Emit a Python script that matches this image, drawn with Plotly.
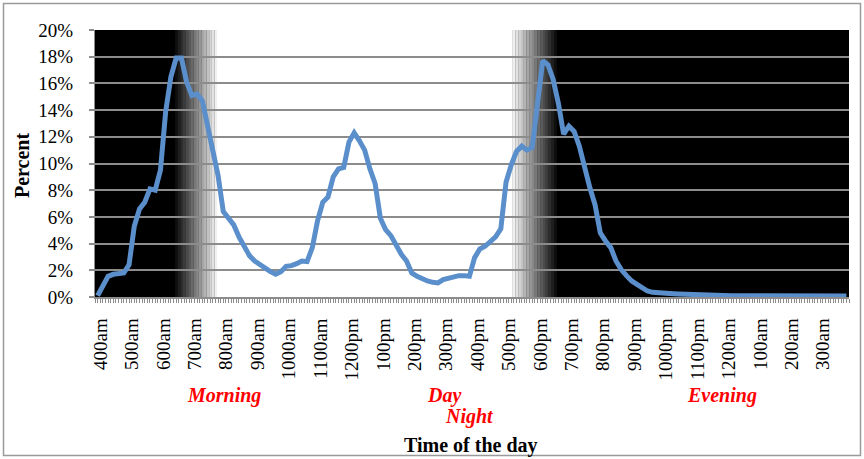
import plotly.graph_objects as go

# Share of activity in each 10-minute slot, starting at 4:00am (percent)
minutes = list(range(0, 1440, 10))
percent = [
    0.1, 0.9, 1.55, 1.7, 1.75, 1.8, 2.4, 5.3, 6.6, 7.1, 8.1, 8.0,
    9.5, 13.9, 16.5, 17.9, 17.9, 16.1, 15.1, 15.2, 14.7, 12.9, 11.0, 9.1,
    6.4, 5.9, 5.4, 4.5, 3.8, 3.1, 2.7, 2.4, 2.2, 1.9, 1.7, 1.9,
    2.3, 2.35, 2.5, 2.7, 2.65, 3.7, 5.7, 7.1, 7.5, 9.0, 9.6, 9.7,
    11.6, 12.3, 11.7, 11.0, 9.6, 8.5, 5.9, 5.05, 4.6, 3.85, 3.2, 2.7,
    1.8, 1.55, 1.35, 1.2, 1.1, 1.05, 1.3, 1.4, 1.5, 1.6, 1.6, 1.55,
    2.95, 3.6, 3.8, 4.1, 4.5, 5.1, 8.6, 9.9, 10.9, 11.3, 11.0, 11.2,
    14.5, 17.7, 17.4, 16.3, 14.5, 12.2, 12.8, 12.4, 11.3, 9.6, 8.2, 6.9,
    4.8, 4.2, 3.7, 2.7, 2.05, 1.6, 1.2, 0.95, 0.7, 0.45, 0.35, 0.3,
    0.28, 0.25, 0.24, 0.22, 0.2, 0.18, 0.17, 0.15, 0.15, 0.14, 0.13, 0.12,
    0.12, 0.1, 0.1, 0.1, 0.09, 0.1, 0.1, 0.12, 0.12, 0.1, 0.1, 0.08,
    0.08, 0.1, 0.12, 0.1, 0.1, 0.08, 0.1, 0.12, 0.12, 0.1, 0.08, 0.08,
]
hour_labels = [
    "400am", "500am", "600am", "700am", "800am", "900am", "1000am", "1100am",
    "1200pm", "100pm", "200pm", "300pm", "400pm", "500pm", "600pm", "700pm",
    "800pm", "900pm", "1000pm", "1100pm", "1200am", "100am", "200am", "300am",
]
hour_minutes = [60 * h for h in range(len(hour_labels))]

# Light conditions, in minutes after 4:00am
dawn_start, dawn_end = 148, 228
dusk_start, dusk_end = 793, 877
gradient_steps = 16

# Page and plot area in pixels
W, H = 864, 459
L, R, T, B = 95, 15, 30, 162
plot_w, plot_h = W - L - R, H - T - B

FONT = "Liberation Serif"
GRID = "#8c8c8c"


def px_x(px):
    return (px - L) / plot_w


def px_y(py):
    return (H - B - py) / plot_h


fig = go.Figure()
fig.add_trace(go.Scatter(
    x=minutes, y=[p / 100 for p in percent],
    mode="lines", line=dict(color="#5A8FCB", width=5),
    showlegend=False, hoverinfo="y",
))

# Night / twilight / day background (black plot bg, white day, grey steps)
shapes = [dict(type="rect", xref="x", yref="paper", x0=dawn_end, x1=dusk_start,
               y0=0, y1=1, fillcolor="white", line_width=0, layer="below")]
dawn_w = (dawn_end - dawn_start) / gradient_steps
dusk_w = (dusk_end - dusk_start) / gradient_steps
for k in range(gradient_steps):
    level = round(255 * (k + 1) / (gradient_steps + 1))
    grey = f"rgb({level},{level},{level})"
    shapes.append(dict(type="rect", xref="x", yref="paper",
                       x0=dawn_start + k * dawn_w, x1=dawn_start + (k + 1) * dawn_w + 0.3,
                       y0=0, y1=1, fillcolor=grey, line_width=0, layer="below"))
    shapes.append(dict(type="rect", xref="x", yref="paper",
                       x0=dusk_end - (k + 1) * dusk_w - 0.3, x1=dusk_end - k * dusk_w,
                       y0=0, y1=1, fillcolor=grey, line_width=0, layer="below"))

# outer chart border
shapes.append(dict(type="rect", xref="paper", yref="paper",
                   x0=px_x(3.5), x1=px_x(860.5), y0=px_y(455.5), y1=px_y(3.5),
                   line=dict(color="#9a9a9a", width=1.5), layer="above"))

period_style = dict(family=FONT, size=20, color="red")
annotations = [
    dict(text="<b><i>Morning</i></b>", x=241, y=px_y(395)),
    dict(text="<b><i>Day</i></b>", x=661, y=px_y(395)),
    dict(text="<b><i>Night</i></b>", x=711, y=px_y(416)),
    dict(text="<b><i>Evening</i></b>", x=1192, y=px_y(395)),
]
for a in annotations:
    a.update(xref="x", yref="paper", showarrow=False, font=period_style)
annotations.append(dict(text="<b>Time of the day</b>", xref="paper", yref="paper",
                        x=px_x(471), y=px_y(445), showarrow=False,
                        font=dict(family=FONT, size=20, color="black")))
annotations.append(dict(text="<b>Percent</b>", xref="paper", yref="paper",
                        x=px_x(22), y=px_y(166), showarrow=False, textangle=-90,
                        font=dict(family=FONT, size=20, color="black")))
for a in annotations:
    a.update(xanchor="center", yanchor="middle")

fig.update_layout(
    width=W, height=H,
    margin=dict(l=L, r=R, t=T, b=B),
    paper_bgcolor="white", plot_bgcolor="black",
    font=dict(family=FONT, size=19, color="black"),
    shapes=shapes, annotations=annotations,
    xaxis=dict(
        range=[-5, 1435], tickmode="array", tickvals=hour_minutes, ticktext=hour_labels,
        tickangle=-90, ticks="outside", ticklen=4, tickcolor=GRID, tickwidth=1,
        showgrid=False, zeroline=False, showline=True, linecolor=GRID, linewidth=1.5,
        ticklabelstandoff=8, ticklabelshift=3, automargin=False,
        minor=dict(ticks="outside", tick0=-5, dtick=5, ticklen=4,
                   tickcolor=GRID, tickwidth=1, showgrid=False),
    ),
    yaxis=dict(
        range=[0, 0.2], dtick=0.02, tickformat=".0%",
        ticks="outside", ticklen=5, tickcolor=GRID, tickwidth=1.5,
        showgrid=True, gridcolor=GRID, gridwidth=1.5, zeroline=False,
        showline=True, linecolor=GRID, linewidth=1, ticklabelstandoff=12,
        automargin=False,
    ),
)

# drop the page's default body margin so the figure sits at the window corner
fig.write_html("out.html", config={"displayModeBar": False},
               post_script="document.body.style.margin='0';")
